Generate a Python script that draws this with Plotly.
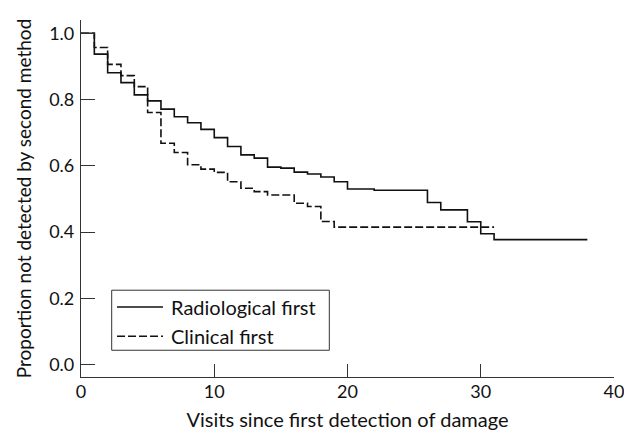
import plotly.graph_objects as go

# Radiological first (solid)
rad_visits = [0, 1, 2, 3, 4, 5, 6, 7, 8, 9, 10, 11, 12, 13, 14, 15, 16, 17, 18, 19, 20, 22, 26, 27, 29, 30, 31, 38]
rad_prop = [1.0, 0.937, 0.881, 0.851, 0.814, 0.796, 0.771, 0.748, 0.730, 0.710, 0.685, 0.658, 0.633, 0.623,
            0.596, 0.593, 0.581, 0.575, 0.566, 0.552, 0.530, 0.526, 0.489, 0.467, 0.431, 0.395, 0.377, 0.377]

# Clinical first (dashed)
cli_visits = [0, 1, 2, 3, 4, 5, 6, 7, 8, 9, 10, 11, 12, 13, 14, 16, 17, 18, 19, 31]
cli_prop = [1.0, 0.957, 0.906, 0.872, 0.839, 0.761, 0.668, 0.640, 0.603, 0.590, 0.580, 0.552, 0.532, 0.522,
            0.512, 0.487, 0.477, 0.432, 0.415, 0.415]

series_names = ["Radiological first", "Clinical first"]

x_ticks = [0, 10, 20, 30, 40]
y_ticks = [0.0, 0.2, 0.4, 0.6, 0.8, 1.0]
y_tick_labels = ["0.0", "0.2", "0.4", "0.6", "0.8", "1.0"]

FONT = "Lato, 'DejaVu Sans', sans-serif"
INK = "#111111"
AXC = "#333333"
LW = 1.6
DASH = "8px,3px"

fig = go.Figure()
fig.add_trace(go.Scatter(x=rad_visits, y=rad_prop, mode="lines", line_shape="hv",
                         name=series_names[0], showlegend=False,
                         line=dict(color=INK, width=LW)))
fig.add_trace(go.Scatter(x=cli_visits, y=cli_prop, mode="lines", line_shape="hv",
                         name=series_names[1], showlegend=False,
                         line=dict(color=INK, width=LW, dash=DASH)))

# Legend box (drawn in paper coordinates of the plot area)
box = dict(x0=0.0576, x1=0.4659, y0=0.0749, y1=0.2431)
fig.add_shape(type="rect", xref="paper", yref="paper", **box,
              line=dict(color=AXC, width=1), fillcolor="white", layer="above")
legend_rows = [0.1962, 0.1141]
legend_dash = ["solid", DASH]
for name, yrow, dsh in zip(series_names, legend_rows, legend_dash):
    fig.add_shape(type="line", xref="paper", yref="paper", x0=0.0676, x1=0.1538, y0=yrow, y1=yrow,
                  line=dict(color=INK, width=LW, dash=dsh), layer="above")
    fig.add_annotation(xref="paper", yref="paper", x=0.165, y=yrow, xanchor="left", yanchor="middle",
                       text=name, showarrow=False, font=dict(size=20, color=INK, family=FONT))

# The page body adds an 8px margin, so the figure is shifted by 8px; size/margins compensate.
fig.update_layout(
    width=624, height=423,
    margin=dict(l=73, r=18, t=12, b=54.3, autoexpand=False),
    paper_bgcolor="white", plot_bgcolor="white",
    font=dict(family=FONT, size=18, color=INK),
    showlegend=False,
    xaxis=dict(range=[0, 40], tickvals=x_ticks, ticks="inside", ticklen=13,
               tickcolor=AXC, showline=True, linecolor=AXC, linewidth=1.2,
               showgrid=False, zeroline=False, automargin=False,
               tickfont=dict(size=18), ticklabelstandoff=-2,
               title=dict(text="Visits since first detection of damage", standoff=12,
                          font=dict(size=20))),
    yaxis=dict(range=[-0.0375, 1.04], tickvals=y_ticks, ticktext=y_tick_labels,
               ticks="inside", ticklen=14,
               tickcolor=AXC, showline=True, linecolor=AXC, linewidth=1.2,
               showgrid=False, zeroline=False, automargin=False,
               tickfont=dict(size=18), ticklabelstandoff=2,
               title=dict(text="Proportion not detected by second method", standoff=12,
                          font=dict(size=19))),
)

fig.write_html("out.html")
